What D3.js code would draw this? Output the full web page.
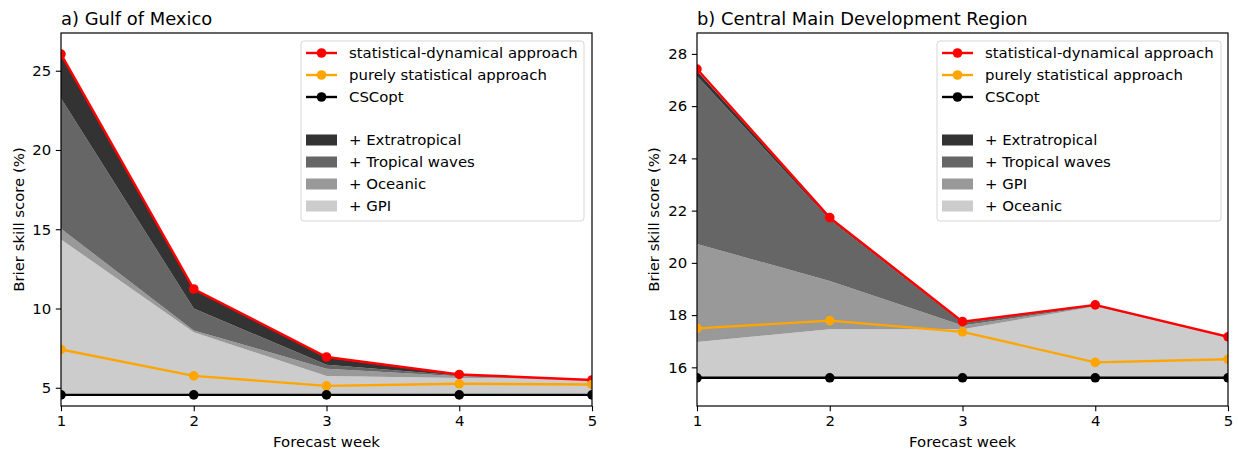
<!DOCTYPE html>
<html>
<head>
<meta charset="utf-8">
<script src="https://cdn.jsdelivr.net/npm/d3@7"></script>
<style>
  body { margin: 0; background: #fff; }
  svg { font-family: "DejaVu Sans", sans-serif; }
</style>
</head>
<body>
<svg id="chart" width="1238" height="452"></svg>
<script>
// forecast weeks on the x axis
const weeks = [1, 2, 3, 4, 5];

// a) Gulf of Mexico
const gulfStatDyn = [26.05, 11.23, 6.94, 5.84, 5.49];
const gulfPureStat = [7.42, 5.75, 5.12, 5.25, 5.21];
const gulfCSCopt = [4.55, 4.55, 4.55, 4.55, 4.55];
const gulfGPI = [14.36, 8.5, 5.75, 5.62, 5.55];
const gulfOceanic = [15.03, 8.62, 6.2, 5.72, 5.5];
const gulfTropical = [23.26, 10.0, 6.45, 5.78, 5.5];
const gulfExtra = [26.0, 11.2, 6.9, 5.83, 5.49];
const gulfTicks = [5, 10, 15, 20, 25];

// b) Central Main Development Region
const cmdrStatDyn = [27.42, 21.73, 17.75, 18.39, 17.17];
const cmdrPureStat = [17.49, 17.79, 17.36, 16.19, 16.31];
const cmdrCSCopt = [15.6, 15.6, 15.6, 15.6, 15.6];
const cmdrOceanic = [16.97, 17.46, 17.46, 18.33, 17.15];
const cmdrGPI = [20.72, 19.31, 17.6, 18.34, 17.16];
const cmdrTropical = [27.15, 21.65, 17.7, 18.36, 17.17];
const cmdrExtra = [27.35, 21.7, 17.75, 18.39, 17.17];
const cmdrTicks = [16, 18, 20, 22, 24, 26, 28];

const lineLabels = ["statistical-dynamical approach", "purely statistical approach", "CSCopt"];
const lineColors = ["#ff0000", "#ffa500", "#000000"];
const fillColors = ["#cccccc", "#999999", "#666666", "#333333"];

const fs = 14.9;   // base font size
const svg = d3.select("#chart");

function drawPanel(p) {
  const top = 33, bottom = 406;
  let x = d3.scaleLinear().domain([1, 5]).range([p.left, p.right]);
  let y = d3.scaleLinear().domain(p.ylim).range([bottom, top]);

  let g = svg.append("g");
  let clipId = "clip-" + p.id;
  g.append("clipPath").attr("id", clipId)
    .append("rect")
    .attr("x", p.left).attr("y", top)
    .attr("width", p.right - p.left).attr("height", bottom - top);

  let plot = g.append("g").attr("clip-path", "url(#" + clipId + ")");

  // stacked fills, each between the previous curve and the next
  let layers = [p.base].concat(p.fills);
  for (let i = 1; i < layers.length; i++) {
    let lo = layers[i - 1], hi = layers[i];
    let area = d3.area()
      .x((d, j) => x(weeks[j]))
      .y0((d, j) => y(lo[j]))
      .y1((d, j) => y(hi[j]));
    plot.append("path")
      .datum(hi)
      .attr("d", area)
      .attr("fill", fillColors[i - 1]);
  }

  // lines with markers
  let series = [p.statDyn, p.pureStat, p.base];
  series.forEach((s, k) => {
    let line = d3.line()
      .x((d, j) => x(weeks[j]))
      .y(d => y(d));
    plot.append("path")
      .datum(s)
      .attr("d", line)
      .attr("fill", "none")
      .attr("stroke", lineColors[k])
      .attr("stroke-width", 2.4);
    plot.selectAll(null)
      .data(s)
      .enter().append("circle")
      .attr("cx", (d, j) => x(weeks[j]))
      .attr("cy", d => y(d))
      .attr("r", 4.8)
      .attr("fill", lineColors[k]);
  });

  // axes
  let xAxis = g.append("g")
    .attr("transform", "translate(0," + bottom + ")")
    .call(d3.axisBottom(x).tickValues(weeks).tickFormat(d3.format("d")).tickSizeOuter(0).tickSize(5.2).tickPadding(4.5));
  let yAxis = g.append("g")
    .attr("transform", "translate(" + p.left + ",0)")
    .call(d3.axisLeft(y).tickValues(p.ticks).tickSizeOuter(0).tickSize(5.2).tickPadding(4.5));
  [xAxis, yAxis].forEach(a => {
    a.select(".domain").remove();
    a.selectAll("text").attr("font-size", fs).attr("fill", "#000")
      .attr("font-family", "DejaVu Sans");
    a.selectAll("line").attr("stroke", "#000").attr("stroke-width", 1.1);
  });

  // frame
  g.append("rect")
    .attr("x", p.left).attr("y", top)
    .attr("width", p.right - p.left).attr("height", bottom - top)
    .attr("fill", "none").attr("stroke", "#000").attr("stroke-width", 1.2);

  // title and axis labels
  g.append("text")
    .attr("x", p.left).attr("y", 25)
    .attr("font-size", 17.9)
    .text(p.title);
  g.append("text")
    .attr("x", (p.left + p.right) / 2).attr("y", 447)
    .attr("text-anchor", "middle")
    .attr("font-size", fs)
    .text("Forecast week");
  g.append("text")
    .attr("transform", "translate(" + p.ylabelX + "," + ((top + bottom) / 2) + ") rotate(-90)")
    .attr("text-anchor", "middle")
    .attr("font-size", fs)
    .text("Brier skill score (%)");

  // legend
  let lg = g.append("g").attr("transform", "translate(" + p.legendX + ",41)");
  lg.append("rect")
    .attr("x", 0).attr("y", 0)
    .attr("width", p.legendW).attr("height", 180)
    .attr("rx", 3)
    .attr("fill", "#fff").attr("fill-opacity", 0.8)
    .attr("stroke", "#d6d6d6").attr("stroke-width", 1);
  lineLabels.forEach((lab, k) => {
    let ry = 12 + k * 22;
    lg.append("line")
      .attr("x1", 5).attr("x2", 36).attr("y1", ry).attr("y2", ry)
      .attr("stroke", lineColors[k]).attr("stroke-width", 2.4);
    lg.append("circle").attr("cx", 20.5).attr("cy", ry).attr("r", 4.8).attr("fill", lineColors[k]);
    lg.append("text").attr("x", 48).attr("y", ry).attr("dy", "0.35em")
      .attr("font-size", fs).text(lab);
  });
  // fill entries listed top layer first
  for (let k = 0; k < 4; k++) {
    let ry = 99 + k * 22;
    let idx = 3 - k;
    lg.append("rect")
      .attr("x", 5).attr("y", ry - 5.5).attr("width", 31).attr("height", 11)
      .attr("fill", fillColors[idx]);
    lg.append("text").attr("x", 48).attr("y", ry).attr("dy", "0.35em")
      .attr("font-size", fs).text("+ " + p.fillLabels[idx]);
  }
}

drawPanel({
  id: "a", title: "a) Gulf of Mexico",
  left: 61, right: 592, ylim: [3.85, 27.38], ticks: gulfTicks, ylabelX: 24,
  statDyn: gulfStatDyn, pureStat: gulfPureStat, base: gulfCSCopt,
  fills: [gulfGPI, gulfOceanic, gulfTropical, gulfExtra],
  fillLabels: ["GPI", "Oceanic", "Tropical waves", "Extratropical"],
  legendX: 301, legendW: 283
});

drawPanel({
  id: "b", title: "b) Central Main Development Region",
  left: 697, right: 1228, ylim: [14.52, 28.8], ticks: cmdrTicks, ylabelX: 659,
  statDyn: cmdrStatDyn, pureStat: cmdrPureStat, base: cmdrCSCopt,
  fills: [cmdrOceanic, cmdrGPI, cmdrTropical, cmdrExtra],
  fillLabels: ["Oceanic", "GPI", "Tropical waves", "Extratropical"],
  legendX: 937, legendW: 284
});
</script>
</body>
</html>
